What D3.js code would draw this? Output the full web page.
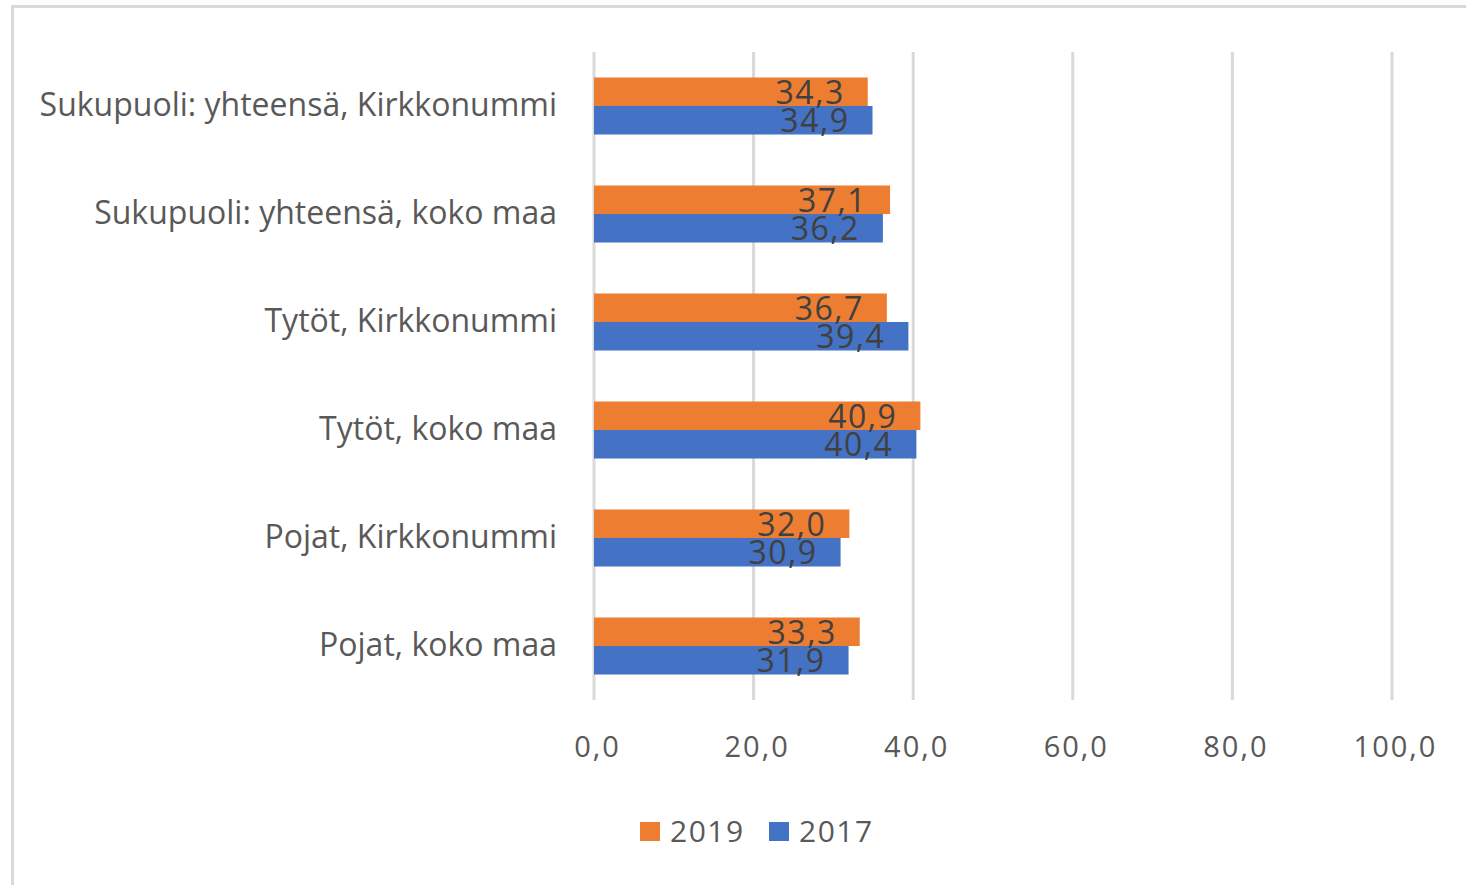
<!DOCTYPE html>
<html>
<head>
<meta charset="utf-8">
<script src="https://cdn.jsdelivr.net/npm/d3@7"></script>
<style>
  html, body { margin: 0; padding: 0; background: #fff; }
  svg { display: block; }
  text { font-family: "Open Sans", Lato, sans-serif; }
</style>
</head>
<body>
<svg id="chart" width="1466" height="885"></svg>
<script>
// Categories listed top to bottom
const categories = [
  "Sukupuoli: yhteensä, Kirkkonummi",
  "Sukupuoli: yhteensä, koko maa",
  "Tytöt, Kirkkonummi",
  "Tytöt, koko maa",
  "Pojat, Kirkkonummi",
  "Pojat, koko maa"
];
const seriesNames = ["2019", "2017"];
const values2019 = [34.3, 37.1, 36.7, 40.9, 32.0, 33.3];
const values2017 = [34.9, 36.2, 39.4, 40.4, 30.9, 31.9];
const xTicks = [0, 20, 40, 60, 80, 100];
const seriesColors = ["#ED7D31", "#4472C4"];

const seriesValues = { "2019": values2019, "2017": values2017 };
const fmt = v => d3.format(".1f")(v).replace(".", ",");
const FONT = "'Open Sans', Lato, sans-serif";

const svg = d3.select("#chart");

// Chart area frame
svg.append("rect")
  .attr("x", 12.5).attr("y", 6.5)
  .attr("width", 1480).attr("height", 900)
  .attr("fill", "#fff")
  .attr("stroke", "#d9d9d9")
  .attr("stroke-width", 3);

const x = d3.scaleLinear().domain([0, 100]).range([594, 1392]);
const y = d3.scaleBand().domain(categories).range([52, 700])
  .paddingInner(0.472).paddingOuter(0.236);
const ySub = d3.scaleBand().domain(seriesNames).range([0, y.bandwidth()]);
const color = d3.scaleOrdinal().domain(seriesNames).range(seriesColors);

// Vertical gridlines
svg.append("g")
  .selectAll("line")
  .data(xTicks)
  .join("line")
  .attr("x1", d => x(d)).attr("x2", d => x(d))
  .attr("y1", 52).attr("y2", 700)
  .attr("stroke", "#d9d9d9")
  .attr("stroke-width", 3);

// X axis tick labels
const xAxis = d3.axisBottom(x).tickValues(xTicks).tickFormat(fmt).tickSize(0).tickPadding(0);
const gx = svg.append("g").attr("transform", "translate(3,736)").call(xAxis);
gx.select(".domain").remove();
gx.selectAll("text")
  .attr("dy", "0.71em")
  .attr("font-size", 29)
  .attr("letter-spacing", 2)
  .attr("font-family", FONT)
  .attr("fill", "#595959");

// Category labels
const yAxis = d3.axisLeft(y).tickSize(0).tickPadding(0);
const gy = svg.append("g").attr("transform", "translate(557,0)").call(yAxis);
gy.select(".domain").remove();
gy.selectAll("text")
  .attr("font-size", 32)
  .attr("font-family", FONT)
  .attr("fill", "#595959");

// Bars and value labels
const rows = categories.map((c, i) => ({
  category: c,
  items: seriesNames.map(s => ({ series: s, value: seriesValues[s][i] }))
}));

const groups = svg.append("g")
  .selectAll("g")
  .data(rows)
  .join("g")
  .attr("transform", d => `translate(0,${y(d.category)})`);

groups.selectAll("rect")
  .data(d => d.items)
  .join("rect")
  .attr("x", x(0))
  .attr("y", d => ySub(d.series))
  .attr("width", d => x(d.value) - x(0))
  .attr("height", ySub.bandwidth())
  .attr("fill", d => color(d.series));

groups.selectAll("text")
  .data(d => d.items)
  .join("text")
  .attr("x", d => x(d.value) - 23)
  .attr("y", d => ySub(d.series) + ySub.bandwidth() / 2)
  .attr("dy", "0.38em")
  .attr("text-anchor", "end")
  .attr("font-size", 32)
  .attr("letter-spacing", 1.5)
  .attr("fill", "#404040")
  .text(d => fmt(d.value));

// Legend
const legend = svg.append("g").attr("transform", "translate(640,822)");
const legendX = [0, 129];
seriesNames.forEach((s, i) => {
  const g = legend.append("g").attr("transform", `translate(${legendX[i]},0)`);
  g.append("rect").attr("width", 20).attr("height", 19).attr("fill", color(s));
  g.append("text")
    .attr("x", 30).attr("y", 20)
    .attr("font-size", 30)
    .attr("letter-spacing", 1.5)
    .attr("fill", "#595959")
    .text(s);
});
</script>
</body>
</html>
